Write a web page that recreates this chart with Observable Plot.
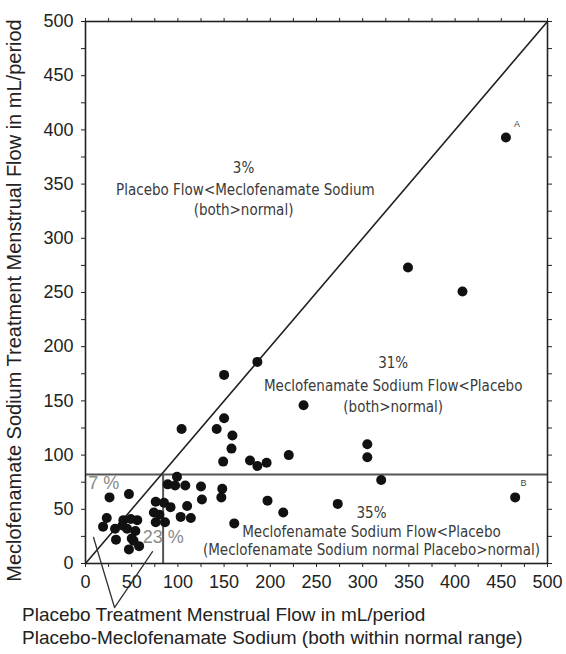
<!DOCTYPE html>
<html>
<head>
<meta charset="utf-8">
<script src="https://cdn.jsdelivr.net/npm/d3@7"></script>
<script src="https://cdn.jsdelivr.net/npm/@observablehq/plot@0.6"></script>
<style>
  html, body { margin: 0; padding: 0; background: #fff; }
  #chart { width: 566px; height: 654px; position: relative; overflow: hidden; }
  #caption { position: absolute; left: 22px; top: 603px; font-family: "Liberation Sans", Arial, sans-serif; font-size: 19px; line-height: 23px; color: #222; white-space: nowrap; }
</style>
</head>
<body>
<div id="chart"></div>
<script>
// Placebo flow (x) and Meclofenamate Sodium flow (y), mL/period
const placeboFlow = [455, 349, 408, 186, 150, 236, 104, 142, 150, 159, 158, 149, 178, 186, 196, 220, 305, 305,
  320, 465, 273, 214, 197, 161, 148, 147, 125, 126, 110, 103, 114, 99, 89, 97, 108,
  76, 85, 92, 74, 80, 76, 86,
  26, 47, 23, 19, 32, 41, 49, 56, 45, 54, 33, 50, 47, 58, 40, 52];
const meclofenamateFlow = [393, 273, 251, 186, 174, 146, 124, 124, 134, 118, 106, 94, 95, 90, 93, 100, 110, 98,
  77, 61, 55, 47, 58, 37, 69, 61, 71, 59, 53, 43, 42, 80, 73, 72, 72,
  57, 56, 52, 47, 45, 38, 38,
  61, 64, 42, 34, 32, 40, 41, 40, 32, 30, 22, 23, 13, 16, 35, 21];

const normalX = 84;   // upper limit of normal placebo flow
const normalY = 82;   // upper limit of normal meclofenamate flow
const diagonal = [0, 500];
const ticks25 = d3.range(0, 501, 25);

const yLabel = "Meclofenamate Sodium Treatment Menstrual Flow in mL/period";
const captionLines = ["Placebo Treatment Menstrual Flow in mL/period",
  "Placebo-Meclofenamate Sodium (both within normal range)"];

// region annotations: text, x, y
const annotTexts = ["3%", "Placebo Flow<Meclofenamate Sodium", "(both>normal)",
  "31%", "Meclofenamate Sodium Flow<Placebo", "(both>normal)",
  "35%", "Meclofenamate Sodium Flow<Placebo", "(Meclofenamate Sodium normal Placebo>normal)"];
const annotX = [171, 173, 171, 333, 333, 333, 309.5, 309.5, 309.5];
const annotY = [365, 344, 326, 184.5, 164, 144, 46, 28.6, 12];

const pctTexts = ["7 %", "23 %"];
const pctX = [3, 62];
const pctY = [74, 24];

const letterTexts = ["A", "B"];
const letterX = [467, 474];
const letterY = [405, 74];

// pointer "V" below the axis
const pointerX = [8.7, 31.4, 72.5];
const pointerY = [24, -40.6, 11];

const points = placeboFlow.map((x, i) => ({x, y: meclofenamateFlow[i]}));
const annots = annotTexts.map((t, i) => ({t, x: annotX[i], y: annotY[i]}));
const pcts = pctTexts.map((t, i) => ({t, x: pctX[i], y: pctY[i]}));
const letters = letterTexts.map((t, i) => ({t, x: letterX[i], y: letterY[i]}));
const pointer = pointerX.map((x, i) => ({x, y: pointerY[i]}));
const diag = diagonal.map(v => ({x: v, y: v}));

const condensed = "'DejaVu Sans Condensed', 'Liberation Sans Narrow', sans-serif";
const fmt = d => (d % 50 === 0 ? String(d) : "");

const chart = Plot.plot({
  width: 566,
  height: 611,
  marginLeft: 85,
  marginRight: 19,
  marginTop: 21,
  marginBottom: 48,
  style: {fontFamily: "'Liberation Sans', Arial, sans-serif", fontSize: "18px", color: "#222", background: "#fff", overflow: "visible"},
  x: {domain: [0, 500]},
  y: {domain: [0, 500]},
  marks: [
    Plot.axisX({anchor: "bottom", ticks: ticks25, tickFormat: fmt, tickSize: 4, tickPadding: 8, label: null, fontSize: 18}),
    Plot.axisX({anchor: "top", ticks: ticks25, tickFormat: () => "", tickSize: 4, label: null}),
    Plot.axisY({anchor: "left", ticks: ticks25, tickFormat: fmt, tickSize: 4, tickPadding: 8, label: null, fontSize: 18}),
    Plot.axisY({anchor: "right", ticks: ticks25, tickFormat: () => "", tickSize: 4, label: null}),
    Plot.ruleY([normalY], {stroke: "#555", strokeWidth: 2}),
    Plot.ruleX([normalX], {y1: 0, y2: normalY, stroke: "#555", strokeWidth: 2}),
    Plot.line(diag, {x: "x", y: "y", stroke: "#222", strokeWidth: 1.6}),
    Plot.frame({stroke: "#222", strokeWidth: 1.6}),
    Plot.line(pointer, {x: "x", y: "y", stroke: "#333", strokeWidth: 1.3}),
    Plot.dot(points, {x: "x", y: "y", r: 5, fill: "#111", stroke: "none"}),
    Plot.text(annots, {x: "x", y: "y", text: "t", fontFamily: condensed, fontSize: 15, fill: "#3a3a3a"}),
    Plot.text(pcts, {x: "x", y: "y", text: "t", textAnchor: "start", fontSize: 18, fill: "#8a8a8a"}),
    Plot.text(letters, {x: "x", y: "y", text: "t", fontSize: 9, fill: "#444"}),
    Plot.text([yLabel], {frameAnchor: "left", textAnchor: "middle", text: d => d, rotate: -90, dx: -71, dy: 8, fontSize: 20, fill: "#222"})
  ]
});

const host = document.getElementById("chart");
host.appendChild(chart);
const cap = document.createElement("div");
cap.id = "caption";
cap.innerHTML = captionLines.map(s => s.replace(/</g, "&lt;")).join("<br>");
host.appendChild(cap);
</script>
</body>
</html>
